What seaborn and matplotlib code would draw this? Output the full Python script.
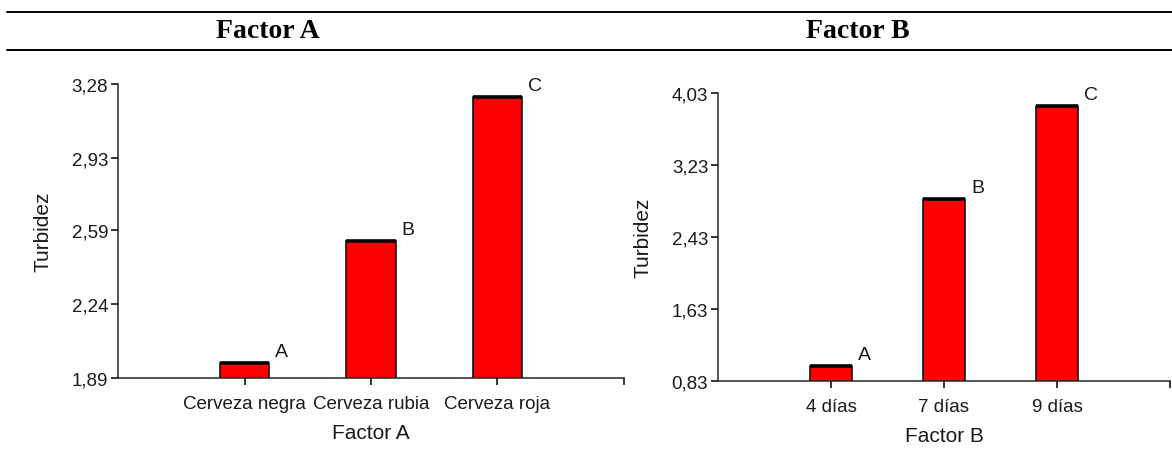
import numpy as np
import pandas as pd
import matplotlib.pyplot as plt
from matplotlib.lines import Line2D
import seaborn as sb

# datos
cerveza = ["Cerveza negra", "Cerveza rubia", "Cerveza roja"]
turbidez_a = [1.96, 2.54, 3.22]
letras_a = ["A", "B", "C"]
yticks_a = [1.89, 2.24, 2.59, 2.93, 3.28]

dias = ["4 días", "7 días", "9 días"]
turbidez_b = [1.00, 2.85, 3.89]
letras_b = ["A", "B", "C"]
yticks_b = [0.83, 1.63, 2.43, 3.23, 4.03]

sb.set_style("ticks")
plt.rcParams['font.family'] = ['Liberation Sans', 'DejaVu Sans']
plt.rcParams['axes.linewidth'] = 1.1

fig = plt.figure(figsize=(11.72, 4.52), dpi=100)
ax_a = fig.add_axes([0.1007, 0.1615, 0.4317, 0.6504])
ax_b = fig.add_axes([0.6126, 0.1549, 0.3857, 0.6371])


def plot_factor(ax, cats, vals, letras, yticks, width, xlabel):
    df = pd.DataFrame({"cat": cats, "val": vals})
    sb.barplot(data=df, x="cat", y="val", color="#ff0000", saturation=1,
               edgecolor="black", linewidth=1.1, width=width, ax=ax)
    # borde superior grueso (error estandar)
    for p, letra in zip(ax.patches, letras):
        x0 = p.get_x()
        x1 = x0 + p.get_width()
        top = p.get_height()
        ax.plot([x0, x1], [top, top], color="black", lw=2.6,
                solid_capstyle="butt", zorder=5)
        ax.annotate(letra, xy=(x1, top), xytext=(4, 2),
                    textcoords="offset points", ha="left", va="bottom",
                    fontsize=14, color="#1a1a1a")
    ax.set_xlim(-1, 3)
    ax.set_ylim(yticks[0], yticks[-1])
    ax.set_yticks(yticks)
    ax.set_yticklabels([("%.2f" % t).replace(".", ",") for t in yticks])
    ax.set_xticks([0, 1, 2, 3])
    ax.set_xticklabels(cats + [""])
    ax.tick_params(axis="both", length=5, width=1.1, labelsize=13.5,
                   colors="black", labelcolor="#1a1a1a", pad=2)
    ax.tick_params(axis="x", pad=7)
    ax.set_xlabel(xlabel, fontsize=15, color="#1a1a1a", labelpad=8)
    ax.set_ylabel("Turbidez", fontsize=15, color="#1a1a1a", labelpad=14)
    sb.despine(ax=ax)


plot_factor(ax_a, cerveza, turbidez_a, letras_a, yticks_a, 0.39, "Factor A")
plot_factor(ax_b, dias, turbidez_b, letras_b, yticks_b, 0.38, "Factor B")

# encabezado tipo tabla
for yy in [1 - 13 / 452, 1 - 51 / 452]:
    fig.add_artist(Line2D([7 / 1172, 1], [yy, yy], color="black", lw=1.4))
fig.text(268 / 1172, 1 - 32 / 452, "Factor A", ha="center", va="center",
         fontsize=20, fontweight="bold", family=["Liberation Serif"],
         color="black")
fig.text(858 / 1172, 1 - 32 / 452, "Factor B", ha="center", va="center",
         fontsize=20, fontweight="bold", family=["Liberation Serif"],
         color="black")

plt.savefig("out.png", dpi=100)
